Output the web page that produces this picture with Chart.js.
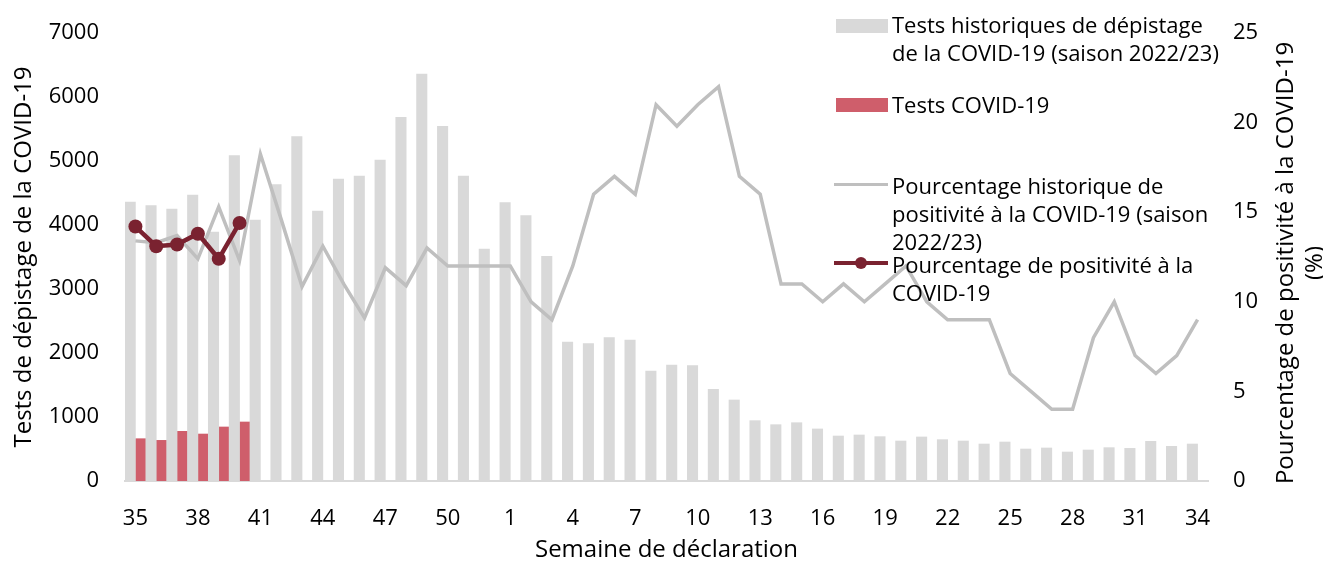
<!DOCTYPE html>
<html>
<head>
<meta charset="utf-8">
<script src="https://cdn.jsdelivr.net/npm/chart.js@4/dist/chart.umd.min.js"></script>
<style>
  body { margin: 0; background: #fff; }
  #wrap { position: relative; width: 1323px; height: 567px; font-family: "Open Sans", sans-serif; }
  #chartjs { position: absolute; left: 0; top: 0; }
  .leg { position: absolute; left: 892px; font-size: 22px; line-height: 28px; color: #000; white-space: nowrap; }
  .sw { position: absolute; }
</style>
</head>
<body>
<div id="wrap">
  <canvas id="chartjs" width="1323" height="567"></canvas>

  <div class="sw" style="left:836px;top:19px;width:52px;height:14px;background:#d9d9d9"></div>
  <div class="leg" style="top:9.5px">Tests historiques de dépistage<br>de la COVID-19 (saison 2022/23)</div>

  <div class="sw" style="left:836px;top:98px;width:52px;height:14px;background:#cf5e6b"></div>
  <div class="leg" style="top:89.5px">Tests COVID-19</div>

  <div class="sw" style="left:834px;top:183px;width:54px;height:3px;background:#bfbfbf"></div>
  <div class="leg" style="top:170.5px">Pourcentage historique de<br>positivité à la COVID-19 (saison<br>2022/23)</div>

  <div class="sw" style="left:834px;top:261px;width:54px;height:4px;background:#7a2230"></div>
  <div class="sw" style="left:855px;top:257px;width:12px;height:12px;border-radius:6px;background:#7a2230"></div>
  <div class="leg" style="top:249.5px">Pourcentage de positivité à la<br>COVID-19</div>
</div>

<script>
/*==== data ====*/
const weeks = ['35','36','37','38','39','40','41','42','43','44','45','46','47','48','49','50','51','52',
    '1','2','3','4','5','6','7','8','9','10','11','12','13','14','15','16','17','18','19','20',
    '21','22','23','24','25','26','27','28','29','30','31','32','33','34'];

// tests historiques (saison 2022/23)
const historicalTests = [4359, 4302, 4250, 4469, 3891, 5083, 4078, 4630, 5380, 4219, 4719, 4766, 5016, 5682, 6359, 5542, 4766, 3625,
    4349, 4146, 3510, 2172, 2146, 2240, 2203, 1719, 1813, 1802, 1432, 1266, 943, 880, 911, 813, 703, 719, 693, 625,
    688, 646, 625, 578, 609, 500, 516, 453, 484, 521, 510, 620, 542, 578];

// tests COVID-19 saison courante
const covidTests = [661, 635, 776, 734, 844, 922];

// pourcentage historique de positivite
const historicalPct = [13.4, 13.3, 13.7, 12.4, 15.3, 12.3, 18.25, 14.6, 10.85, 13.1, 11.0, 9.1, 11.9, 10.9, 13.0, 12.0, 12.0, 12.0,
    12.0, 10.0, 9.0, 12.0, 16.0, 17.0, 16.0, 21.0, 19.8, 21.0, 22.0, 17.0, 16.0, 11.0, 11.0, 10.0, 11.0, 10.0, 11.0, 12.0,
    10.0, 9.0, 9.0, 9.0, 6.0, 5.0, 4.0, 4.0, 8.0, 10.0, 7.0, 6.0, 7.0, 9.0];

// pourcentage de positivite saison courante
const covidPct = [14.2, 13.1, 13.2, 13.8, 12.4, 14.4];

const fontFamily = '"Open Sans", sans-serif';

/*==== right axis title, reads bottom to top ====*/
const rightTitle = {
    id: 'rightTitle',
    afterDraw(chart) {
        const ctx = chart.ctx;
        const area = chart.chartArea;
        ctx.save();
        ctx.translate(1286, (area.top + area.bottom) / 2 + 6);
        ctx.rotate(-Math.PI / 2);
        ctx.font = '24px ' + fontFamily;
        ctx.fillStyle = '#000';
        ctx.textAlign = 'center';
        ctx.textBaseline = 'middle';
        ctx.fillText('Pourcentage de positivité à la COVID-19', 0, 0);
        ctx.fillText('(%)', 0, 29);
        ctx.restore();
    }
};

// fixed widths, and no extra label padding so the plot starts at y=33
function fixWidth(w) {
    return function(scale) {
        scale.width = w;
        scale.paddingTop = 0;
        scale.paddingBottom = 0;
    };
}

/*==== config ====*/
const config = {
    type: 'bar',
    data: {
        labels: weeks,
        datasets: [
            {
                type: 'line',
                label: 'Pourcentage de positivité à la COVID-19',
                data: covidPct,
                yAxisID: 'y1',
                borderColor: '#7a2230',
                backgroundColor: '#7a2230',
                borderWidth: 4.5,
                pointRadius: 7,
                pointBorderWidth: 0,
                tension: 0,
                order: 0
            },
            {
                type: 'line',
                label: 'Pourcentage historique de positivité à la COVID-19 (saison 2022/23)',
                data: historicalPct,
                yAxisID: 'y1',
                borderColor: '#bfbfbf',
                borderWidth: 3.5,
                pointRadius: 0,
                tension: 0,
                order: 1
            },
            {
                label: 'Tests historiques de dépistage de la COVID-19 (saison 2022/23)',
                data: historicalTests,
                yAxisID: 'y',
                backgroundColor: '#d9d9d9',
                barPercentage: 1,
                categoryPercentage: 1,
                order: 2
            },
            {
                label: 'Tests COVID-19',
                data: covidTests,
                yAxisID: 'y',
                backgroundColor: '#cf5e6b',
                barPercentage: 1,
                categoryPercentage: 1,
                order: 3
            }
        ]
    },
    options: {
        responsive: false,
        animation: false,
        layout: { padding: { top: 33, left: 0, right: 0, bottom: 0 } },
        plugins: {
            legend: { display: false },
            tooltip: { enabled: false }
        },
        scales: {
            x: {
                grid: { display: false, drawTicks: false },
                border: { display: true, color: '#d9d9d9', width: 2 },
                ticks: {
                    autoSkip: false,
                    maxRotation: 0,
                    padding: 25,
                    color: '#000',
                    font: { family: fontFamily, size: 22 },
                    callback: function(val, i) { return i % 3 === 0 ? weeks[i] : ''; }
                },
                title: {
                    display: true,
                    text: 'Semaine de déclaration',
                    color: '#000',
                    font: { family: fontFamily, size: 24 },
                    padding: { top: 0, bottom: 2 }
                },
                afterFit: function(scale) { scale.height = 86; }
            },
            y: {
                position: 'left',
                min: 0,
                max: 7000,
                grid: { display: false, drawTicks: false },
                border: { display: false },
                ticks: {
                    stepSize: 1000,
                    padding: 26,
                    color: '#000',
                    font: { family: fontFamily, size: 22 },
                    callback: function(v) { return String(v); }
                },
                title: {
                    display: true,
                    text: 'Tests de dépistage de la COVID-19',
                    color: '#000',
                    font: { family: fontFamily, size: 24 },
                    padding: { top: 10, bottom: 0 }
                },
                afterFit: fixWidth(125)
            },
            y1: {
                position: 'right',
                min: 0,
                max: 25,
                grid: { display: false, drawTicks: false },
                border: { display: false },
                ticks: {
                    stepSize: 5,
                    padding: 25,
                    color: '#000',
                    font: { family: fontFamily, size: 22 }
                },
                afterFit: fixWidth(115)
            }
        }
    },
    plugins: [rightTitle]
};

var covidChart = new Chart(document.querySelector('#chartjs'), config);
</script>
</body>
</html>
